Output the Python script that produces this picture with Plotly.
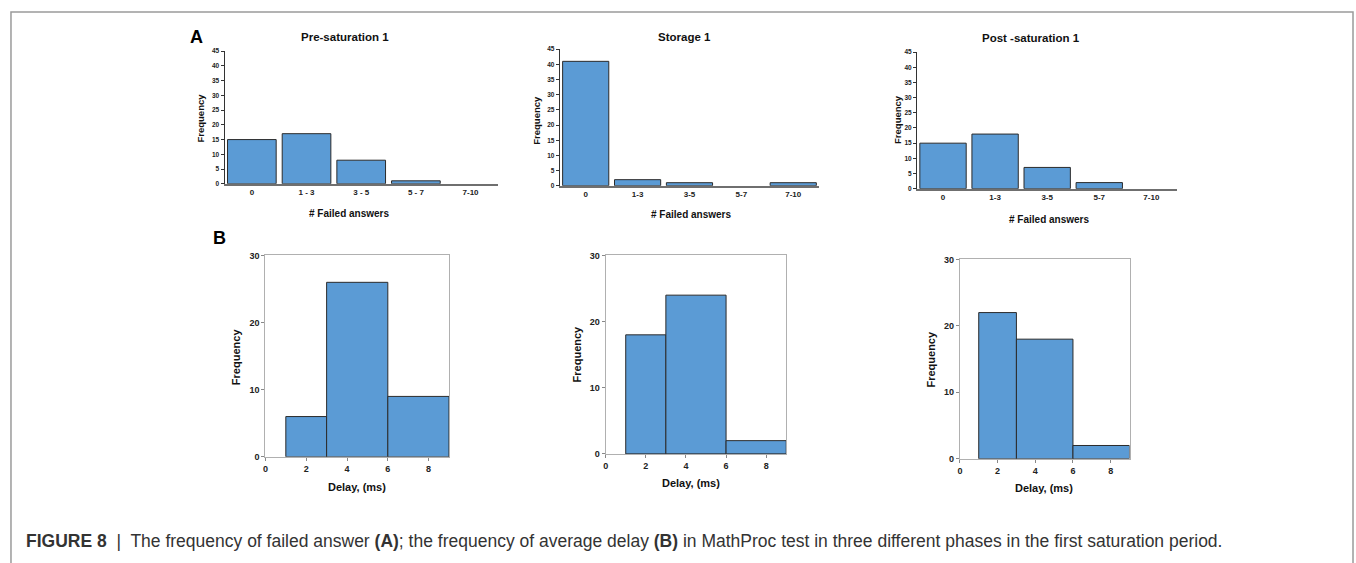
import plotly.graph_objects as go

W, H = 1356, 563

# ---- data ----
fail_labels_pre = ["0", "1 - 3", "3 - 5", "5 - 7", "7-10"]
fail_labels = ["0", "1-3", "3-5", "5-7", "7-10"]
pre_fail = [15, 17, 8, 1, 0]
storage_fail = [41, 2, 1, 0, 1]
post_fail = [15, 18, 7, 2, 0]

delay_edges = [1, 3, 6, 9]
pre_delay = [6, 26, 9]
storage_delay = [18, 24, 2]
post_delay = [22, 18, 2]

top_titles = ["Pre-saturation 1", "Storage 1", "Post -saturation 1"]

BAR = "#5b9bd5"
EDGE = "#2b2b2b"
FONT = "Liberation Sans, Arial, sans-serif"


def px(x):
    return x / W


def py(y):
    return 1 - y / H


fig = go.Figure()

# panel boxes in pixels: (x0, x1, ytop, ybottom)
top_boxes = [(222, 496, 47, 182), (558, 818, 45, 184), (916, 1177, 48, 187)]
bot_boxes = [(263, 447, 255, 460), (604, 785, 255, 457), (959, 1129, 259, 462)]
top_data = [(fail_labels_pre, pre_fail), (fail_labels, storage_fail), (fail_labels, post_fail)]
bot_data = [pre_delay, storage_delay, post_delay]

annotations = []

for i, ((x0, x1, yt, yb), (labels, vals)) in enumerate(zip(top_boxes, top_data)):
    n = i + 1
    xa = "x" if n == 1 else f"x{n}"
    ya = "y" if n == 1 else f"y{n}"
    fig.add_trace(go.Bar(
        x=labels, y=vals, xaxis=xa, yaxis=ya,
        marker=dict(color=BAR, line=dict(color=EDGE, width=[1 if v > 0 else 0 for v in vals])),
        showlegend=False, hoverinfo="x+y"))
    fig.update_layout(**{
        ("xaxis" if n == 1 else f"xaxis{n}"): dict(
            domain=[px(x0), px(x1)], anchor=ya, type="category",
            range=[-0.5, 4.5], showline=True, linecolor="#6f6f6f", linewidth=1.5,
            ticks="", showgrid=False, zeroline=False,
            tickfont=dict(size=8, family=FONT, color="#222", weight="bold")),
        ("yaxis" if n == 1 else f"yaxis{n}"): dict(
            domain=[py(yb), py(yt)], anchor=xa, range=[0, 45],
            tickvals=list(range(0, 50, 5)), showline=True, linecolor="#333",
            linewidth=1, ticks="outside", ticklen=3, tickcolor="#333",
            showgrid=False, zeroline=False,
            tickfont=dict(size=6.5, family=FONT, color="#222", weight="bold")),
    })

for i, ((x0, x1, yt, yb), vals) in enumerate(zip(bot_boxes, bot_data)):
    n = i + 4
    xa = f"x{n}"
    ya = f"y{n}"
    centers = [(a + b) / 2 for a, b in zip(delay_edges[:-1], delay_edges[1:])]
    widths = [b - a for a, b in zip(delay_edges[:-1], delay_edges[1:])]
    fig.add_trace(go.Bar(
        x=centers, y=vals, width=widths, xaxis=xa, yaxis=ya,
        marker=dict(color=BAR, line=dict(color=EDGE, width=1)),
        showlegend=False, hoverinfo="y"))
    fig.update_layout(**{
        f"xaxis{n}": dict(
            domain=[px(x0), px(x1)], anchor=ya, range=[0, 9],
            tickvals=[0, 2, 4, 6, 8], showline=True, mirror=True,
            linecolor="#b0b0b0", linewidth=1, ticks="outside", ticklen=3,
            tickcolor="#888", showgrid=False, zeroline=False,
            tickfont=dict(size=9, family=FONT, color="#222", weight="bold")),
        f"yaxis{n}": dict(
            domain=[py(yb), py(yt)], anchor=xa, range=[0, 30],
            tickvals=[0, 10, 20, 30], showline=True, mirror=True,
            linecolor="#b0b0b0", linewidth=1, ticks="outside", ticklen=3,
            tickcolor="#888", showgrid=False, zeroline=False,
            tickfont=dict(size=9, family=FONT, color="#222", weight="bold")),
    })


def ann(text, x, y, size, angle=0, color="#111", xanchor="center"):
    annotations.append(dict(
        text=text, x=px(x), y=py(y), xref="paper", yref="paper",
        showarrow=False, textangle=angle, xanchor=xanchor, yanchor="middle",
        font=dict(size=size, family=FONT, color=color)))


# top row titles and axis labels
title_pos = [(343, 33), (683, 33), (1030, 34)]
xlab_top = [(347, 212), (690, 213), (1048, 218)]
ylab_top = [(198, 115), (535, 117), (897, 117)]
for t, (tx, ty), (lx, ly), (fx, fy) in zip(top_titles, title_pos, xlab_top, ylab_top):
    ann(f"<b>{t}</b>", tx, ty, 11.5)
    ann("<b># Failed answers</b>", lx, ly, 10)
    ann("<b>Frequency</b>", fx, fy, 9.5, angle=-90)

xlab_bot = [(355, 491), (690, 487), (1043, 492)]
ylab_bot = [(233, 358), (575, 355), (930, 360)]
for (lx, ly), (fx, fy) in zip(xlab_bot, ylab_bot):
    ann("<b>Delay, (ms)</b>", lx, ly, 11)
    ann("<b>Frequency</b>", fx, fy, 11, angle=-90)

ann("<b>A</b>", 194, 33, 18, color="#000")
ann("<b>B</b>", 217, 237, 18, color="#000")

ann("<b>FIGURE 8</b>  |  The frequency of failed answer <b>(A)</b>; the frequency of average delay <b>(B)</b> "
    "in MathProc test in three different phases in the first saturation period.",
    21, 546, 17.5, color="#333", xanchor="left")

fig.update_layout(
    width=W, height=H, margin=dict(l=0, r=0, t=0, b=0),
    paper_bgcolor="white", plot_bgcolor="white",
    annotations=annotations, bargap=0.11,
    shapes=[dict(type="rect", xref="paper", yref="paper",
                 x0=px(8), x1=px(1353), y0=-0.05, y1=py(7),
                 line=dict(color="#9a9a9a", width=1.5), fillcolor="rgba(0,0,0,0)",
                 layer="below")],
)

fig.write_html("out.html", config={"displayModeBar": False},
               post_script="document.body.style.margin='0';document.body.style.overflow='hidden';")
